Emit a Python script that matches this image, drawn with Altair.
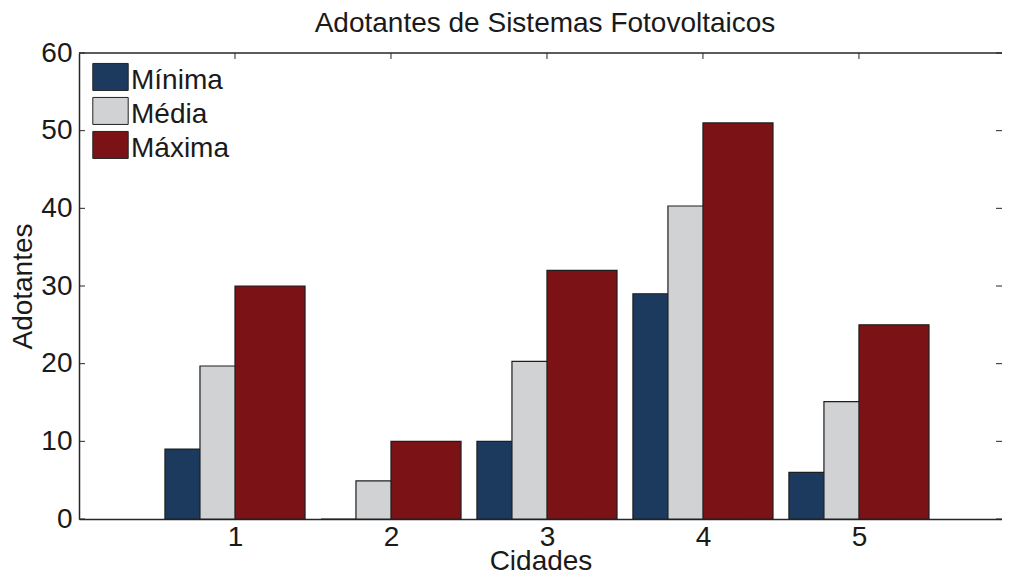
import altair as alt
import pandas as pd

cities = [1, 2, 3, 4, 5]
series = ["Mínima", "Média", "Máxima"]
minima = [9, 0, 10, 29, 6]
media = [19.7, 4.9, 20.3, 40.3, 15.1]
maxima = [30, 10, 32, 51, 25]
colors = ["#1c3a5e", "#d0d2d4", "#7b1316"]
y_ticks = [0, 10, 20, 30, 40, 50, 60]
title_text = "Adotantes de Sistemas Fotovoltaicos"

rows = []
for si, (name, vals) in enumerate(zip(series, [minima, media, maxima])):
    for c, v in zip(cities, vals):
        rows.append({"cidade": c, "serie": name, "idx": si, "valor": v})
df = pd.DataFrame(rows)

W = 923
H = 466
XMAX = 5.917
FONT = "Liberation Sans"
FS = 28
TXT = "#1a1a1a"
AX = "#262626"

xscale = alt.Scale(domain=[0, XMAX], nice=False, zero=False)
yscale = alt.Scale(domain=[0, 60], nice=False)

bars = alt.Chart(df).transform_calculate(
    x0="datum.cidade + (datum.idx - 1) * 0.2245 - 0.2245",
    x1="datum.cidade + (datum.idx - 1) * 0.2245 + 0.2245",
    base="0",
).mark_rect(stroke="#1e1e1e", strokeWidth=1.2).encode(
    x=alt.X("x0:Q", scale=xscale,
            axis=alt.Axis(values=cities, format="d", title="Cidades", tickSize=0,
                          labelPadding=26, labelBaseline="alphabetic",
                          labelFontSize=FS, labelFont=FONT, labelColor=TXT,
                          titleFontSize=FS, titleFont=FONT, titleColor=TXT, titleFontWeight="normal",
                          titleBaseline="alphabetic", titleY=50.5,
                          domainColor=AX, domainWidth=1.5, grid=False)),
    x2="x1:Q",
    y=alt.Y("valor:Q", scale=yscale,
            axis=alt.Axis(values=y_ticks, title="Adotantes", tickSize=0,
                          labelPadding=7, labelFontSize=FS, labelFont=FONT, labelColor=TXT,
                          titleFontSize=FS, titleFont=FONT, titleColor=TXT, titleFontWeight="normal",
                          titleBaseline="alphabetic", titleX=-48, titleY=H / 2,
                          domainColor=AX, domainWidth=1.5, grid=False)),
    y2="base:Q",
    color=alt.Color("serie:N", scale=alt.Scale(domain=series, range=colors),
                    legend=alt.Legend(title=None, orient="none", legendX=17.5, legendY=14,
                                      symbolType="M-1.311,-1.3H1.311V0.7H-1.311Z", symbolSize=729,
                                      symbolStrokeColor="#222", symbolStrokeWidth=1,
                                      symbolOpacity=1, labelFont=FONT, labelFontSize=FS,
                                      labelColor=TXT, rowPadding=0, padding=0, labelOffset=6.5)),
)

ydf = pd.DataFrame({"v": y_ticks})
xdf = pd.DataFrame({"c": cities})

left_ticks = alt.Chart(ydf).mark_rule(color=AX, strokeWidth=1).encode(
    y=alt.Y("v:Q", scale=yscale), x=alt.value(0), x2=alt.value(6))
right_ticks = alt.Chart(ydf).mark_rule(color=AX, strokeWidth=1).encode(
    y=alt.Y("v:Q", scale=yscale), x=alt.value(W - 6), x2=alt.value(W))
top_ticks = alt.Chart(xdf).mark_rule(color=AX, strokeWidth=1).encode(
    x=alt.X("c:Q", scale=xscale), y=alt.value(0), y2=alt.value(6))
top_line = alt.Chart(pd.DataFrame({"a": [0]})).mark_rule(color=AX, strokeWidth=1.5).encode(
    x=alt.value(0), x2=alt.value(W), y=alt.value(0))

title = alt.Chart(pd.DataFrame({"t": [title_text]})).mark_text(
    font=FONT, fontSize=FS, color=TXT, align="center", baseline="alphabetic"
).encode(text="t:N", x=alt.value(W / 2 + 4.5), y=alt.value(-21.3))

chart = alt.layer(bars, left_ticks, right_ticks, top_ticks, top_line, title).properties(
    width=W, height=H,
    autosize=alt.AutoSizeParams(type="none"),
    padding={"left": 71, "top": 45, "right": 0, "bottom": 51},
).configure_view(stroke=None)

chart.save("out.html", embed_options={"renderer": "svg", "actions": False})
